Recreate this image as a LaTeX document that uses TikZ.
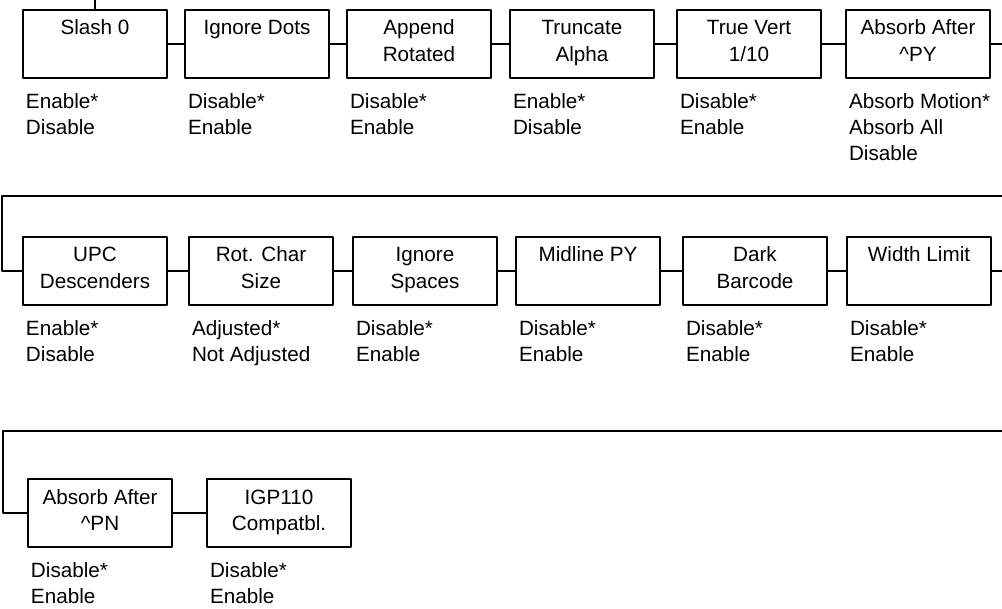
\documentclass[tikz,border=0pt]{standalone}
\usepackage{fontspec}
\setmainfont{Liberation Sans}
\usetikzlibrary{positioning}
\newcommand{\menutitle}[1]{\begin{tabular}[t]{@{}c@{}}#1\end{tabular}}
\tikzset{
  menubox/.style={draw, line width=0.9pt, minimum width=108pt, minimum height=51pt,
    inner sep=0pt, text height=11pt, text depth=24.5pt,
    font=\fontsize{15.5}{20}\selectfont},
  choices/.style={align=left, inner sep=0pt, font=\fontsize{15.5}{19.5}\selectfont},
  link/.style={line width=0.9pt}
}
\begin{document}
\begin{tikzpicture}[x=0.75pt, y=-0.75pt, line join=round]
	\useasboundingbox (0,0) rectangle (1002,609);
	\path
		(95,0) coordinate (in)
		(1002,44) coordinate (out1)
		(1002,196) coordinate (ret1r)
		(2,196) coordinate (ret1l)
		(1002,271) coordinate (out2)
		(1002,431) coordinate (ret2r)
		(3,431) coordinate (ret2l)
	;
	% menu boxes and their choices
	\foreach \nm/\px/\py/\ttl/\chs in {
		1/95/44/{Slash 0}/{Enable*\\Disable},
		2/257/44/{Ignore Dots}/{Disable*\\Enable},
		3/419/44/{Append\\Rotated}/{Disable*\\Enable},
		4/582/44/{Truncate\\Alpha}/{Enable*\\Disable},
		5/749/44/{True Vert\\1/10}/{Disable*\\Enable},
		6/918/44/{Absorb After\\\textasciicircum PY}/{Absorb Motion*\\Absorb All\\Disable},
		7/95/271/{UPC\\Descenders}/{Enable*\\Disable},
		8/261/271/{Rot. Char\\Size}/{Adjusted*\\Not Adjusted},
		9/425/271/{Ignore\\Spaces}/{Disable*\\Enable},
		10/588/271/{Midline PY}/{Disable*\\Enable},
		11/755/271/{Dark\\Barcode}/{Disable*\\Enable},
		12/919/271/{Width Limit}/{Disable*\\Enable},
		13/100/513/{Absorb After\\\textasciicircum PN}/{Disable*\\Enable},
		14/279/513/{IGP110\\Compatbl.}/{Disable*\\Enable}}
	{
		\node[menubox] (b\nm) at (\px,\py) {\menutitle{\ttl}};
		\node[choices, below right=11.25pt and 2.5pt of b\nm.south west] (c\nm) {\chs};
	}
	\foreach \a/\b in {1/2,2/3,3/4,4/5,5/6,7/8,8/9,9/10,10/11,11/12,13/14}
		\draw[link] (b\a) -- (b\b);
	\draw[link] (in) -- (b1);
	\draw[link] (b6) -- (out1);
	\draw[link] (ret1r) -- (ret1l) |- (b7);
	\draw[link] (b12) -- (out2);
	\draw[link] (ret2r) -- (ret2l) |- (b13);
\end{tikzpicture}
\end{document}
